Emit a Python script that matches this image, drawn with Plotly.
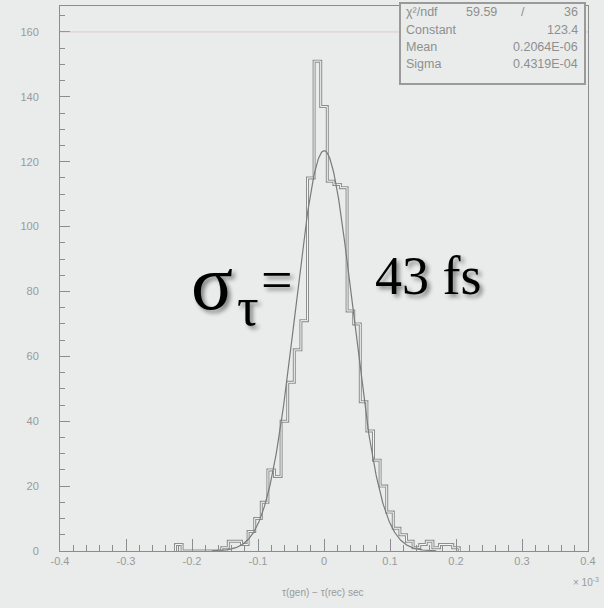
import numpy as np
import plotly.graph_objects as go

# ---- data ----
bin_centers = [-0.22, -0.21, -0.20, -0.19, -0.18, -0.17, -0.16, -0.15, -0.14, -0.13,
               -0.12, -0.11, -0.10, -0.09, -0.08, -0.07, -0.06, -0.05, -0.04, -0.03,
               -0.02, -0.01, 0.00, 0.01, 0.02, 0.03, 0.04, 0.05, 0.06, 0.07,
               0.08, 0.09, 0.10, 0.11, 0.12, 0.13, 0.14, 0.15, 0.16, 0.17,
               0.18, 0.19, 0.20]
counts = [2, 0, 0, 0, 0, 0, 0, 1, 3, 3,
          2, 6, 10, 15, 25, 23, 40, 52, 62, 71,
          115, 151, 137, 114, 113, 112, 74, 70, 46, 37,
          28, 20, 12, 7, 5, 3, 1, 2, 3, 1,
          2, 2, 1]
bin_width = 0.01

fit_constant = 123.4
fit_mean = 0.2064e-06     # sec, axis unit 1e-3
fit_sigma = 0.4319e-04
axis_scale = 1e-3

stats_labels = ["\u03c7\u00b2/ndf", "Constant", "Mean", "Sigma"]
stats_values = ["36", "123.4", "0.2064E-06", "0.4319E-04"]
chi2_value = "59.59"

x_ticks = [-0.4, -0.3, -0.2, -0.1, 0, 0.1, 0.2, 0.3, 0.4]
y_ticks = [0, 20, 40, 60, 80, 100, 120, 140, 160]

# ---- geometry ----
W, H = 604, 608
L, R, T, B = 60, 16, 6, 57
pw, ph = W - L - R, H - T - B


def px(x):
    return (x - L) / pw


def py(y):
    return (H - B - y) / ph


bg = "#e9ecea"
linec = "#8c8c8c"
txtc = "#9a9a9a"

# histogram outline (step)
edges = [c - bin_width / 2 for c in bin_centers] + [bin_centers[-1] + bin_width / 2]
hx = [edges[0]] + edges + [edges[-1]]
hy = [0] + counts + [counts[-1], 0]

# fit curve from displayed parameters
mu = fit_mean / axis_scale
sg = fit_sigma / axis_scale
gx = np.linspace(-0.17, 0.17, 400)
gy = fit_constant * np.exp(-0.5 * ((gx - mu) / sg) ** 2)

fig = go.Figure()
fig.add_trace(go.Scatter(x=hx, y=hy, mode="lines", line=dict(shape="hv", color="#8e8e8e", width=3),
                         hoverinfo="skip", showlegend=False))
fig.add_trace(go.Scatter(x=hx, y=hy, mode="lines", line=dict(shape="hv", color="#f4f6f5", width=1),
                         hoverinfo="skip", showlegend=False))
fig.add_trace(go.Scatter(x=gx, y=gy, mode="lines", line=dict(color="#7a7a7a", width=1.2),
                         hoverinfo="skip", showlegend=False))

fig.update_layout(
    width=W, height=H,
    margin=dict(l=L, r=R, t=T, b=B),
    paper_bgcolor=bg, plot_bgcolor=bg,
    showlegend=False,
    font=dict(family="Liberation Sans, Arial, sans-serif", color=txtc, size=11),
)
fig.update_xaxes(
    range=[-0.4, 0.4], tickvals=x_ticks, ticktext=[f"{v:g}" for v in x_ticks],
    ticks="inside", ticklen=12, tickcolor=linec, tickwidth=1,
    minor=dict(dtick=0.02, ticks="inside", ticklen=6, tickcolor=linec),
    showline=True, linecolor=linec, linewidth=1, mirror=True,
    showgrid=False, zeroline=False, tickfont=dict(size=11, color=txtc),
)
fig.update_yaxes(
    range=[0, 168], tickvals=y_ticks,
    ticks="inside", ticklen=10, tickcolor=linec, tickwidth=1,
    minor=dict(dtick=5, ticks="inside", ticklen=5, tickcolor=linec),
    showline=True, linecolor=linec, linewidth=1, mirror=True,
    showgrid=False, zeroline=False, tickfont=dict(size=11, color=txtc),
    ticklabelstandoff=18,
)

# faint horizontal line near the top
fig.add_shape(type="line", xref="paper", yref="y", x0=0, x1=1, y0=160, y1=160,
              line=dict(color="rgba(215,160,170,0.45)", width=1))

# stats box
sfont = dict(size=12.5, color="#8f8f8f")
fig.add_shape(type="rect", xref="paper", yref="paper", x0=px(400), x1=px(585), y0=py(84), y1=py(3),
              line=dict(color="#9a9a9a", width=2), fillcolor=bg)
rows_y = [12, 30, 47, 64]
for lab, yv in zip(stats_labels, rows_y):
    fig.add_annotation(x=px(404), y=py(yv), xref="paper", yref="paper", text=lab, showarrow=False,
                       xanchor="left", yanchor="middle", font=sfont)
for val, yv in zip(stats_values, rows_y):
    fig.add_annotation(x=px(580), y=py(yv), xref="paper", yref="paper", text=val, showarrow=False,
                       xanchor="right", yanchor="middle", font=sfont)
fig.add_annotation(x=px(499), y=py(12), xref="paper", yref="paper", text=chi2_value, showarrow=False,
                   xanchor="right", yanchor="middle", font=sfont)
fig.add_annotation(x=px(523), y=py(12), xref="paper", yref="paper", text="/", showarrow=False,
                   xanchor="center", yanchor="middle", font=sfont)

# axis title and exponent
fig.add_annotation(x=px(323), y=py(592), xref="paper", yref="paper",
                   text="\u03c4(gen) \u2212 \u03c4(rec) sec", showarrow=False,
                   xanchor="center", yanchor="middle", font=dict(size=10, color=txtc))
fig.add_annotation(x=px(601), y=py(582), xref="paper", yref="paper",
                   text="\u00d7 10<sup>-3</sup>", showarrow=False, xanchor="right", yanchor="middle",
                   font=dict(size=10, color=txtc))

# big annotation
shadow = "3px 3px 4px rgba(0,0,0,0.45)"
serif = "Liberation Serif, Times New Roman, serif"
fig.add_annotation(x=px(212), y=py(282), xref="paper", yref="paper", text="\u03c3", showarrow=False,
                   xanchor="center", yanchor="middle",
                   font=dict(family=serif, size=78, color="black", shadow=shadow))
fig.add_annotation(x=px(248), y=py(307), xref="paper", yref="paper", text="\u03c4", showarrow=False,
                   xanchor="center", yanchor="middle",
                   font=dict(family=serif, size=54, color="black", shadow=shadow))
fig.add_annotation(x=px(277), y=py(280), xref="paper", yref="paper", text="=", showarrow=False,
                   xanchor="center", yanchor="middle",
                   font=dict(family=serif, size=56, color="black", shadow=shadow))
fig.add_annotation(x=px(428), y=py(276), xref="paper", yref="paper", text="43 fs", showarrow=False,
                   xanchor="center", yanchor="middle",
                   font=dict(family=serif, size=54, color="black", shadow=shadow))

fig.write_html("out.html")
